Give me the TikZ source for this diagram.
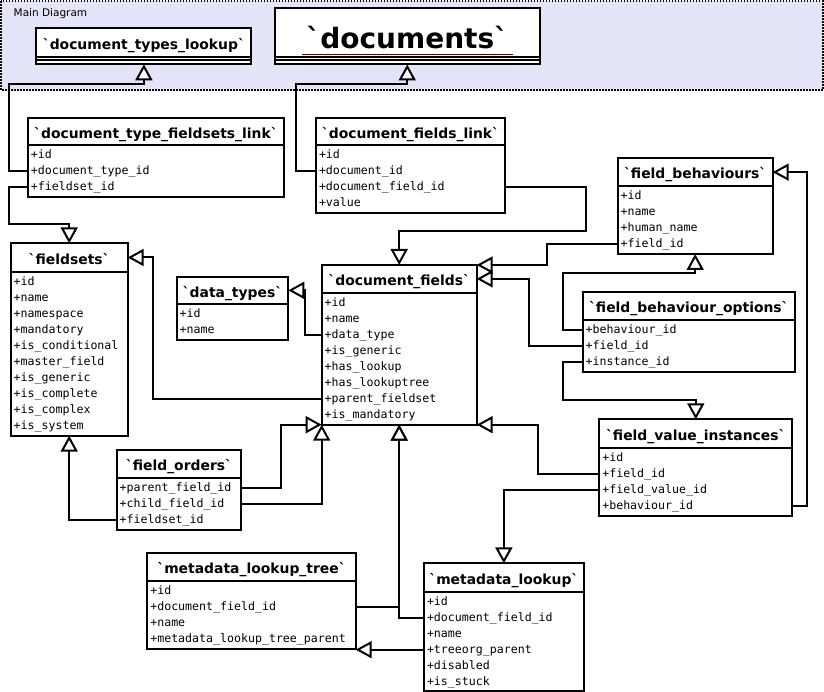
\documentclass[tikz,border=0pt]{standalone}
\usepackage{fontspec}
\newfontfamily\hdrfont{DejaVu Sans}
\newfontfamily\rowfont{DejaVu Sans Mono}
\usetikzlibrary{arrows.meta,calc}
\definecolor{bglav}{RGB}{228,228,248}
\definecolor{ulred}{RGB}{95,0,0}
\tikzset{
  clsbox/.style={draw=black, line width=2pt, fill=white, inner sep=0pt, outer sep=0pt},
  hdrtext/.style={font=\hdrfont\bfseries\fontsize{13.9}{16}\selectfont, inner sep=0pt, outer sep=0pt, text height=13.6pt, text depth=0pt},
  bightext/.style={font=\hdrfont\bfseries\fontsize{28}{32}\selectfont, inner sep=0pt, outer sep=0pt, text height=32pt, text depth=0pt},
  rowtext/.style={font=\rowfont\fontsize{11.6}{13}\selectfont, inner xsep=3pt, inner ysep=0pt, outer sep=0pt, text height=7.6pt, text depth=0pt, align=left},
  sepline/.style={line width=2pt},
  conn/.style={line width=2pt, -{Triangle[length=16pt, width=17pt, fill=white]}},
  region/.style={fill=bglav, draw=black, line width=1.6pt, dash pattern=on 1.6pt off 1.4pt},
  regionlabel/.style={font=\hdrfont\fontsize{10.5}{12}\selectfont, inner sep=0pt, anchor=base west},
}
\newcommand{\umlbox}[7]{%
  \pgfmathsetmacro\bw{#4-#2}%
  \pgfmathsetmacro\bh{#5-#3}%
  \pgfmathsetmacro\bxc{(#2+#4)/2}%
  \pgfmathsetmacro\byc{(#3+#6)/2}%
  \node[clsbox, minimum width=\bw pt, minimum height=\bh pt, anchor=north west] (#1) at (#2,#3) {};
  \coordinate (#1-hc) at (\bxc,\byc);
  \node[hdrtext] (#1-t) at (#1-hc) {#7};
  \draw[sepline] (#2,#6) -- (#4,#6);
}
\newcommand{\umlrows}[5]{%
  \pgfmathsetmacro\rtw{#3-#2-6}%
  \foreach \rtxt [count=\ri] in {#5} {%
    \node[rowtext, text width=\rtw pt, anchor=west] (#1-\ri) at (#2,{#4+10+16*(\ri-1)}) {\rtxt};
  }%
}
\begin{document}
\begin{tikzpicture}[x=1pt,y=-1pt]
\useasboundingbox (0,0) rectangle (824,692);
% region
\path[region] (1,1) rectangle (822.7,90);
\node[regionlabel] (mainlbl) at (13.5,16.5) {Main Diagram};

% document_types_lookup
\umlbox{dtl}{36.4}{28}{251.4}{64.3}{56.7}{`document\_types\_lookup`}
\draw[sepline] (36.4,60.5) -- (251.4,60.5);
% documents
\node[clsbox, minimum width=264.5pt, minimum height=56.2pt, anchor=north west] (docs) at (275,8.3) {};
\coordinate (docs-hc) at (407.25,32.5);
\node[bightext] (docs-t) at (docs-hc) {`documents`};
\draw[ulred, line width=0.6pt] (301.7,54.6) -- (513,54.6);
\draw[sepline] (275,56.7) -- (539.5,56.7);
\draw[sepline] (275,60.5) -- (539.5,60.5);

% document_type_fieldsets_link
\umlbox{dtfl}{27.9}{118}{284}{197}{145}{`document\_type\_fieldsets\_link`}
\umlrows{dtfl}{27.9}{284}{145}{+id,+document\_type\_id,+fieldset\_id}
% document_fields_link
\umlbox{dfl}{316}{118}{505}{213}{145}{`document\_fields\_link`}
\umlrows{dfl}{316}{505}{145}{+id,+document\_id,+document\_field\_id,+value}
% fieldsets
\umlbox{fs}{10.7}{243.3}{127.7}{435.7}{271.7}{`fieldsets`}
\umlrows{fs}{10.7}{127.7}{271.7}{+id,+name,+namespace,+mandatory,+is\_conditional,+master\_field,+is\_generic,+is\_complete,+is\_complex,+is\_system}
% data_types
\umlbox{dt}{176.7}{276.7}{288.3}{340}{304}{`data\_types`}
\umlrows{dt}{176.7}{288.3}{304}{+id,+name}
% document_fields
\umlbox{df}{321.7}{265}{476.7}{424.7}{292.7}{`document\_fields`}
\umlrows{df}{321.7}{476.7}{292.7}{+id,+name,+data\_type,+is\_generic,+has\_lookup,+has\_lookuptree,+parent\_fieldset,+is\_mandatory}
% field_behaviours
\umlbox{fb}{617.7}{158.3}{772.7}{254}{186}{`field\_behaviours`}
\umlrows{fb}{617.7}{772.7}{186}{+id,+name,+human\_name,+field\_id}
% field_behaviour_options
\umlbox{fbo}{582.7}{291.7}{795}{371.7}{320}{`field\_behaviour\_options`}
\umlrows{fbo}{582.7}{795}{320}{+behaviour\_id,+field\_id,+instance\_id}
% field_value_instances
\umlbox{fvi}{599.3}{419.3}{792.3}{515.7}{447.7}{`field\_value\_instances`}
\umlrows{fvi}{599.3}{792.3}{447.7}{+id,+field\_id,+field\_value\_id,+behaviour\_id}
% field_orders
\umlbox{fo}{116.7}{450}{241.3}{530}{478}{`field\_orders`}
\umlrows{fo}{116.7}{241.3}{478}{+parent\_field\_id,+child\_field\_id,+fieldset\_id}
% metadata_lookup_tree
\umlbox{mlt}{147.3}{552.7}{355.7}{648.7}{580.7}{`metadata\_lookup\_tree`}
\umlrows{mlt}{147.3}{355.7}{580.7}{+id,+document\_field\_id,+name,+metadata\_lookup\_tree\_parent}
% metadata_lookup
\umlbox{ml}{424}{563.3}{583.7}{690.7}{591.7}{`metadata\_lookup`}
\umlrows{ml}{424}{583.7}{591.7}{+id,+document\_field\_id,+name,+treeorg\_parent,+disabled,+is\_stuck}

% entry points on headers
\coordinate (fsin) at (fs.east |- fs-hc);
\coordinate (dtin) at (dt.east |- dt-hc);
\coordinate (fbin) at (fb.east |- fb-hc);
\coordinate (dfin) at (df.east |- df-hc);

% connectors
\draw[conn] (dtfl-2.west) -| (8.6,84) -| (dtl.south);
\draw[conn] (dfl-2.west) -| (295.7,84) -| (docs.south);
\draw[conn] (dtfl-3.west) -| (8.6,224) -| (fs.north);
\draw[conn] (dfl-3.east) -| (586,231) -| (df.north);
\draw[conn] (df-7.west) -| ($(fsin)+(25.3,0)$) -- (fsin);
\draw[conn] (df-3.west) -| ($(dtin)+(16.5,0)$) -- (dtin);
\draw[conn] (fo-1.east) -| ($(df.south west)+(-40.5,0)$) -- (df.south west);
\draw[conn] (fo-2.east) -| (df.south west);
\draw[conn] (fo-3.west) -| (fs.south);
\draw[conn] (mlt-2.east) -| (df.south);
\draw[conn] (ml-2.west) -| (df.south);
\draw[conn] (ml-4.west) -- (ml-4.west -| mlt.east);
\draw[conn] (fvi-3.west) -| (ml.north);
\draw[conn] (fvi-2.west) -| ($(df.south east)+(61.5,0)$) -- (df.south east);
\draw[conn] (fvi-4.east) -| ($(fbin)+(34,0)$) -- (fbin);
\draw[conn] (fbo-1.west) -| (562.7,273.5) -| (fb.south);
\draw[conn] (fbo-3.west) -| (562.7,400) -| (fvi.north);
\draw[conn] (fbo-2.west) -| ($(dfin)+(52.6,0)$) -- (dfin);
\draw[conn] (fb-4.west) -| ($(df.north east)+(70.6,0)$) -- (df.north east);
\end{tikzpicture}
\end{document}
